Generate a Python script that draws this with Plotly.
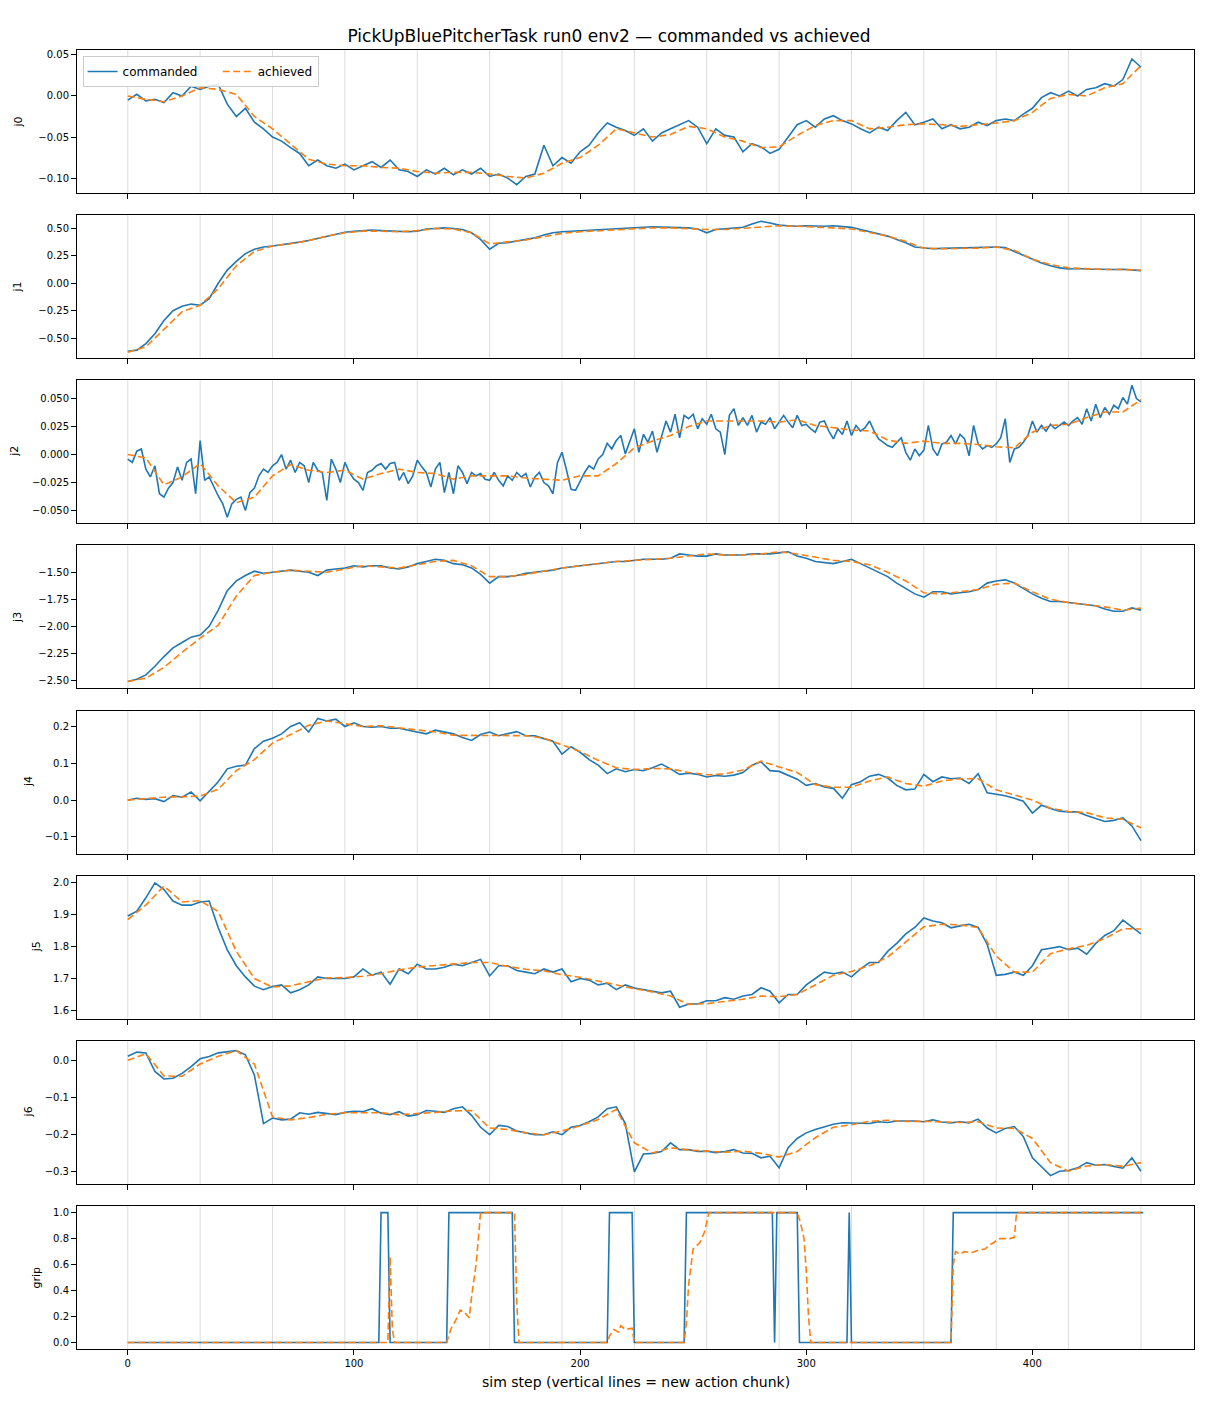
"""
PickUpBluePitcherTask run0 env2: commanded vs achieved joint trajectories.

Eight stacked panels sharing one step axis; light vertical lines mark
the start of each new action chunk.
"""

import plotly.graph_objects as go
from plotly.subplots import make_subplots

# sample grids (sim steps) for the values
STEPS_CMD = list(range(0, 449, 4))
STEPS_J2 = list(range(0, 449, 2))   # j2 is the noisiest joint, read more densely
STEPS_ACH = list(range(0, 449, 8))
CHUNK_STARTS = [0, 32, 64, 96, 128, 160, 192, 224, 256, 288, 320, 352, 384, 416, 448]

J0_CMD = [
    -0.005, 0.002, -0.006, -0.004, -0.008, 0.004, 0.0, 0.012, 0.008, 0.012,
    0.014, -0.01, -0.025, -0.015, -0.032, -0.04, -0.05, -0.055, -0.063, -0.07,
    -0.085, -0.078, -0.085, -0.088, -0.083, -0.09, -0.085, -0.08, -0.087, -0.078,
    -0.09, -0.092, -0.098, -0.09, -0.095, -0.088, -0.096, -0.09, -0.095, -0.088,
    -0.098, -0.095, -0.1, -0.108, -0.098, -0.095, -0.06, -0.085, -0.075, -0.082,
    -0.068, -0.06, -0.045, -0.033, -0.038, -0.042, -0.048, -0.04, -0.055, -0.045,
    -0.04, -0.035, -0.03, -0.038, -0.058, -0.04, -0.048, -0.05, -0.068, -0.058,
    -0.062, -0.07, -0.065, -0.05, -0.035, -0.03, -0.038, -0.028, -0.024, -0.03,
    -0.034, -0.04, -0.045, -0.038, -0.042, -0.03, -0.02, -0.035, -0.032, -0.028,
    -0.04, -0.035, -0.04, -0.038, -0.032, -0.036, -0.03, -0.028, -0.03, -0.022,
    -0.015, -0.002, 0.004, 0.0, 0.006, 0.0, 0.008, 0.01, 0.015, 0.012,
    0.02, 0.045, 0.035,
]
J0_ACH = [
    0.0, -0.004, -0.007, 0.0, 0.01, 0.008, 0.002, -0.025, -0.04, -0.058,
    -0.077, -0.083, -0.085, -0.085, -0.087, -0.088, -0.092, -0.094, -0.093, -0.093,
    -0.095, -0.098, -0.1, -0.094, -0.082, -0.075, -0.06, -0.04, -0.045, -0.05,
    -0.047, -0.037, -0.04, -0.05, -0.055, -0.063, -0.062, -0.048, -0.036, -0.03,
    -0.03, -0.04, -0.038, -0.035, -0.034, -0.035, -0.037, -0.035, -0.033, -0.03,
    -0.02, -0.003, 0.002, 0.0, 0.01, 0.015, 0.037,
]

J1_CMD = [
    -0.62, -0.61, -0.55, -0.46, -0.34, -0.25, -0.21, -0.19, -0.2, -0.14,
    0.0, 0.12, 0.2, 0.27, 0.31, 0.33, 0.34, 0.35, 0.365, 0.375,
    0.39, 0.41, 0.43, 0.45, 0.465, 0.475, 0.48, 0.485, 0.48, 0.478,
    0.475, 0.47, 0.475, 0.495, 0.5, 0.505, 0.5, 0.49, 0.46, 0.4,
    0.31, 0.365, 0.37, 0.385, 0.4, 0.415, 0.44, 0.46, 0.47, 0.475,
    0.48, 0.485, 0.49, 0.49, 0.495, 0.5, 0.505, 0.51, 0.515, 0.512,
    0.51, 0.508, 0.505, 0.495, 0.46, 0.49, 0.495, 0.5, 0.51, 0.54,
    0.565, 0.55, 0.53, 0.525, 0.52, 0.525, 0.52, 0.52, 0.525, 0.515,
    0.51, 0.49, 0.47, 0.45, 0.43, 0.4, 0.37, 0.33, 0.32, 0.315,
    0.318, 0.32, 0.318, 0.32, 0.322, 0.325, 0.33, 0.325, 0.29, 0.26,
    0.22, 0.185, 0.16, 0.14, 0.13, 0.135, 0.13, 0.128, 0.125, 0.125,
    0.128, 0.122, 0.115,
]
J1_ACH = [
    -0.63, -0.58, -0.42, -0.26, -0.2, -0.05, 0.16, 0.29, 0.34, 0.36,
    0.39, 0.43, 0.46, 0.475, 0.475, 0.47, 0.48, 0.5, 0.495, 0.46,
    0.36, 0.375, 0.395, 0.425, 0.455, 0.47, 0.48, 0.49, 0.5, 0.505,
    0.505, 0.497, 0.49, 0.49, 0.5, 0.515, 0.524, 0.52, 0.515, 0.505,
    0.495, 0.465, 0.43, 0.38, 0.32, 0.315, 0.316, 0.32, 0.33, 0.3,
    0.22, 0.17, 0.14, 0.13, 0.125, 0.125, 0.119,
]

J2_CMD = [
    -0.004, -0.007, 0.003, 0.005, -0.013, -0.02, -0.01, -0.035, -0.038, -0.03,
    -0.025, -0.011, -0.023, -0.007, -0.004, -0.035, 0.0125, -0.023, -0.02, -0.029,
    -0.037, -0.044, -0.056, -0.044, -0.04, -0.038, -0.05, -0.034, -0.03, -0.019,
    -0.013, -0.016, -0.01, -0.007, 0.0, -0.013, -0.005, -0.016, -0.007, -0.01,
    -0.025, -0.007, -0.014, -0.016, -0.041, -0.004, -0.013, -0.025, -0.007, -0.016,
    -0.022, -0.025, -0.032, -0.016, -0.014, -0.01, -0.008, -0.013, -0.008, -0.007,
    -0.023, -0.016, -0.026, -0.019, -0.005, -0.011, -0.016, -0.029, -0.013, -0.007,
    -0.034, -0.016, -0.035, -0.01, -0.016, -0.026, -0.016, -0.019, -0.017, -0.022,
    -0.023, -0.016, -0.023, -0.028, -0.019, -0.023, -0.016, -0.02, -0.017, -0.029,
    -0.02, -0.016, -0.025, -0.028, -0.035, -0.007, 0.002, -0.014, -0.031, -0.032,
    -0.024, -0.016, -0.01, -0.013, -0.004, 0.0, 0.01, 0.005, 0.0125, 0.017,
    0.0006, 0.011, 0.023, 0.002, 0.018, 0.011, 0.021, 0.002, 0.015, 0.03,
    0.02, 0.036, 0.015, 0.035, 0.032, 0.036, 0.023, 0.032, 0.027, 0.036,
    0.023, 0.02, 0.0, 0.035, 0.041, 0.026, 0.033, 0.026, 0.035, 0.02,
    0.029, 0.027, 0.033, 0.023, 0.029, 0.035, 0.029, 0.024, 0.035, 0.026,
    0.027, 0.023, 0.02, 0.029, 0.03, 0.021, 0.014, 0.023, 0.018, 0.03,
    0.017, 0.026, 0.021, 0.024, 0.03, 0.021, 0.014, 0.011, 0.008, 0.0065,
    0.011, 0.015, 0.002, -0.005, 0.005, -0.001, 0.004, 0.026, 0.005, -0.001,
    0.0095, 0.011, 0.017, 0.0095, 0.018, 0.014, -0.001, 0.026, 0.0095, 0.005,
    0.008, 0.0065, 0.0095, 0.015, 0.032, -0.007, 0.005, 0.0065, 0.011, 0.017,
    0.03, 0.02, 0.026, 0.021, 0.027, 0.023, 0.026, 0.029, 0.026, 0.03,
    0.033, 0.027, 0.041, 0.03, 0.045, 0.033, 0.042, 0.036, 0.044, 0.041,
    0.051, 0.045, 0.062, 0.05, 0.047,
]
J2_ACH = [
    0.0, -0.003, -0.027, -0.02, -0.008, -0.028, -0.043, -0.038, -0.019, -0.009,
    -0.014, -0.016, -0.014, -0.022, -0.017, -0.013, -0.016, -0.017, -0.022, -0.019,
    -0.019, -0.019, -0.021, -0.022, -0.023, -0.019, -0.019, -0.008, 0.006, 0.012,
    0.017, 0.025, 0.03, 0.03, 0.03, 0.03, 0.029, 0.031, 0.026, 0.024,
    0.022, 0.021, 0.013, 0.01, 0.012, 0.01, 0.01, 0.009, 0.007, 0.006,
    0.02, 0.026, 0.027, 0.033, 0.038, 0.038, 0.049,
]

J3_CMD = [
    -2.51, -2.49, -2.45, -2.37, -2.28, -2.2, -2.15, -2.1, -2.08, -2.0,
    -1.85, -1.67, -1.58, -1.53, -1.49, -1.51, -1.5, -1.49, -1.48, -1.49,
    -1.5, -1.53, -1.48, -1.47, -1.46, -1.44, -1.45, -1.44, -1.44, -1.46,
    -1.47, -1.45, -1.42, -1.4, -1.38, -1.39, -1.42, -1.43, -1.46, -1.52,
    -1.6, -1.54, -1.54, -1.53, -1.51, -1.5, -1.49, -1.48, -1.46, -1.45,
    -1.44, -1.43, -1.42, -1.41, -1.4, -1.4, -1.39, -1.38, -1.38, -1.38,
    -1.37, -1.33, -1.34, -1.35, -1.35, -1.33, -1.34, -1.34, -1.34, -1.33,
    -1.33, -1.33, -1.32, -1.31, -1.35, -1.37, -1.4, -1.41, -1.42, -1.4,
    -1.38, -1.42, -1.46, -1.5, -1.54, -1.6, -1.65, -1.7, -1.73, -1.68,
    -1.68, -1.7, -1.69, -1.68, -1.66, -1.6, -1.58, -1.57, -1.6, -1.65,
    -1.7, -1.74, -1.77, -1.77, -1.78, -1.79, -1.8, -1.81, -1.84, -1.86,
    -1.86, -1.83, -1.85,
]
J3_ACH = [
    -2.51, -2.48, -2.38, -2.24, -2.11, -1.99, -1.72, -1.53, -1.5, -1.48,
    -1.49, -1.5, -1.47, -1.44, -1.45, -1.46, -1.43, -1.4, -1.39, -1.44,
    -1.54, -1.54, -1.52, -1.49, -1.46, -1.44, -1.42, -1.4, -1.39, -1.38,
    -1.37, -1.35, -1.33, -1.34, -1.34, -1.33, -1.31, -1.33, -1.36, -1.39,
    -1.4, -1.43, -1.5, -1.58, -1.69, -1.7, -1.68, -1.66, -1.61, -1.6,
    -1.68, -1.75, -1.78, -1.8, -1.82, -1.85, -1.83,
]

J4_CMD = [
    0.0, 0.005, 0.002, 0.004, -0.004, 0.012, 0.008, 0.022, -0.002, 0.025,
    0.05, 0.085, 0.092, 0.095, 0.14, 0.16, 0.168, 0.18, 0.2, 0.21,
    0.185, 0.222, 0.215, 0.22, 0.2, 0.21, 0.2, 0.198, 0.2, 0.195,
    0.195, 0.19, 0.185, 0.18, 0.19, 0.185, 0.18, 0.17, 0.162, 0.178,
    0.185, 0.175, 0.18, 0.186, 0.175, 0.175, 0.167, 0.16, 0.125, 0.145,
    0.13, 0.11, 0.095, 0.072, 0.085, 0.077, 0.083, 0.08, 0.088, 0.098,
    0.085, 0.07, 0.073, 0.07, 0.063, 0.067, 0.065, 0.068, 0.075, 0.095,
    0.104, 0.08, 0.078, 0.068, 0.057, 0.04, 0.045, 0.036, 0.032, 0.005,
    0.042, 0.05, 0.065, 0.07, 0.06, 0.04, 0.028, 0.03, 0.07, 0.05,
    0.063, 0.058, 0.06, 0.045, 0.072, 0.02, 0.017, 0.012, 0.005, -0.003,
    -0.035, -0.014, -0.023, -0.03, -0.032, -0.032, -0.042, -0.05, -0.058, -0.055,
    -0.048, -0.07, -0.11,
]
J4_ACH = [
    0.0, 0.004, 0.008, 0.009, 0.011, 0.03, 0.08, 0.11, 0.155, 0.178,
    0.203, 0.215, 0.207, 0.2, 0.202, 0.197, 0.19, 0.185, 0.176, 0.176,
    0.176, 0.176, 0.175, 0.168, 0.15, 0.132, 0.108, 0.088, 0.083, 0.086,
    0.085, 0.075, 0.069, 0.071, 0.082, 0.106, 0.09, 0.075, 0.042, 0.035,
    0.035, 0.052, 0.063, 0.045, 0.038, 0.052, 0.058, 0.058, 0.028, 0.014,
    0.0, -0.022, -0.031, -0.034, -0.048, -0.052, -0.075,
]

J5_CMD = [
    1.896, 1.911, 1.953, 2.0, 1.979, 1.943, 1.93, 1.93, 1.94, 1.943,
    1.859, 1.79, 1.74, 1.705, 1.676, 1.665, 1.675, 1.68, 1.655, 1.665,
    1.68, 1.705, 1.7, 1.7, 1.7, 1.705, 1.73, 1.71, 1.72, 1.682,
    1.73, 1.715, 1.745, 1.73, 1.73, 1.735, 1.745, 1.74, 1.75, 1.76,
    1.708, 1.74, 1.74, 1.725, 1.72, 1.715, 1.73, 1.72, 1.73, 1.69,
    1.7, 1.695, 1.68, 1.685, 1.665, 1.68, 1.67, 1.665, 1.66, 1.655,
    1.66, 1.61, 1.62, 1.62, 1.63, 1.63, 1.64, 1.635, 1.645, 1.65,
    1.671, 1.66, 1.624, 1.65, 1.65, 1.68, 1.7, 1.72, 1.715, 1.72,
    1.705, 1.73, 1.75, 1.75, 1.785, 1.81, 1.84, 1.86, 1.89, 1.88,
    1.875, 1.859, 1.865, 1.87, 1.86, 1.807, 1.71, 1.713, 1.72, 1.71,
    1.74, 1.79, 1.795, 1.8, 1.79, 1.795, 1.776, 1.81, 1.835, 1.85,
    1.883, 1.86, 1.84,
]
J5_ACH = [
    1.885, 1.93, 1.99, 1.94, 1.944, 1.91, 1.785, 1.7, 1.673, 1.677,
    1.69, 1.702, 1.703, 1.707, 1.715, 1.727, 1.736, 1.74, 1.744, 1.75,
    1.75, 1.738, 1.729, 1.724, 1.712, 1.704, 1.692, 1.679, 1.668, 1.658,
    1.645, 1.619, 1.621, 1.628, 1.635, 1.645, 1.643, 1.65, 1.68, 1.71,
    1.722, 1.74, 1.767, 1.815, 1.862, 1.87, 1.868, 1.86, 1.77, 1.72,
    1.72, 1.778, 1.793, 1.804, 1.825, 1.856, 1.855,
]

J6_CMD = [
    0.011, 0.022, 0.02, -0.03, -0.05, -0.048, -0.035, -0.017, 0.004, 0.01,
    0.02, 0.022, 0.026, 0.015, -0.04, -0.17, -0.155, -0.16, -0.158, -0.141,
    -0.145, -0.14, -0.142, -0.146, -0.14, -0.137, -0.138, -0.13, -0.142, -0.146,
    -0.138, -0.15, -0.146, -0.135, -0.137, -0.14, -0.13, -0.125, -0.148, -0.18,
    -0.2, -0.175, -0.178, -0.19, -0.195, -0.2, -0.2, -0.192, -0.2, -0.18,
    -0.175, -0.165, -0.152, -0.13, -0.125, -0.17, -0.3, -0.252, -0.25, -0.245,
    -0.222, -0.24, -0.24, -0.245, -0.244, -0.248, -0.245, -0.24, -0.249, -0.25,
    -0.262, -0.258, -0.289, -0.235, -0.21, -0.195, -0.186, -0.178, -0.172, -0.168,
    -0.168, -0.168, -0.17, -0.165, -0.167, -0.163, -0.162, -0.163, -0.165, -0.16,
    -0.166, -0.168, -0.165, -0.168, -0.158, -0.182, -0.195, -0.183, -0.178, -0.205,
    -0.262, -0.287, -0.31, -0.298, -0.296, -0.289, -0.275, -0.282, -0.28, -0.285,
    -0.29, -0.262, -0.298,
]
J6_ACH = [
    0.0, 0.018, -0.042, -0.043, -0.01, 0.011, 0.026, -0.01, -0.152, -0.16,
    -0.154, -0.145, -0.141, -0.141, -0.141, -0.146, -0.144, -0.14, -0.136, -0.135,
    -0.182, -0.186, -0.195, -0.2, -0.19, -0.176, -0.159, -0.132, -0.222, -0.249,
    -0.235, -0.241, -0.244, -0.247, -0.244, -0.25, -0.26, -0.245, -0.208, -0.18,
    -0.173, -0.164, -0.161, -0.164, -0.164, -0.166, -0.167, -0.165, -0.182, -0.183,
    -0.21, -0.275, -0.298, -0.284, -0.28, -0.285, -0.275,
]

# gripper is a step signal, so it is listed at its change points
GRIP_CMD_STEPS = [0, 111, 112, 115, 116, 141, 142, 170, 171, 212, 213, 223, 224,
                  246, 247, 285, 286, 287, 296, 297, 318, 319, 320, 364, 365, 449]
GRIP_CMD = [0, 0, 1, 1, 0, 0, 1, 1, 0, 0, 1, 1, 0,
            0, 1, 1, 0, 1, 1, 0, 0, 1, 0, 0, 1, 1]
GRIP_ACH_STEPS = [0, 115, 116, 117, 118, 141, 143, 145, 147, 149, 151, 152, 154, 156,
                  171, 172, 173, 212, 213, 215, 217, 218, 220, 223, 224,
                  246, 247, 248, 250, 253, 255, 257, 296, 297, 298, 299, 300, 301, 302,
                  364, 365, 366, 368, 370, 373, 376, 379, 381, 383, 385, 390, 392, 393, 449]
GRIP_ACH = [0, 0, 0.66, 0.1, 0, 0, 0.11, 0.17, 0.25, 0.23, 0.19, 0.35, 0.6, 1.0,
            1.0, 0.3, 0, 0, 0.05, 0.1, 0.08, 0.13, 0.1, 0.11, 0,
            0, 0.15, 0.45, 0.72, 0.77, 0.85, 1.0, 1.0, 0.95, 0.88, 0.8, 0.55, 0.2, 0,
            0, 0.6, 0.7, 0.68, 0.7, 0.69, 0.71, 0.72, 0.75, 0.77, 0.8, 0.8, 0.81, 1.0, 1.0]

BLUE = "#1f77b4"
ORANGE = "#ff7f0e"
FONT = "DejaVu Sans"

# label, commanded (x, y), achieved (x, y), y range, tick step, tick format, label x (page px)
PANELS = [
    ("j0", STEPS_CMD, J0_CMD, STEPS_ACH, J0_ACH, [-0.118, 0.056], 0.05, ".2f", 18),
    ("j1", STEPS_CMD, J1_CMD, STEPS_ACH, J1_ACH, [-0.682, 0.621], 0.25, ".2f", 18),
    ("j2", STEPS_J2, J2_CMD, STEPS_ACH, J2_ACH, [-0.0613, 0.0663], 0.025, ".3f", 15),
    ("j3", STEPS_CMD, J3_CMD, STEPS_ACH, J3_ACH, [-2.574, -1.252], 0.25, ".2f", 18),
    ("j4", STEPS_CMD, J4_CMD, STEPS_ACH, J4_ACH, [-0.145, 0.243], 0.1, ".1f", 28),
    ("j5", STEPS_CMD, J5_CMD, STEPS_ACH, J5_ACH, [1.574, 2.022], 0.1, ".1f", 36),
    ("j6", STEPS_CMD, J6_CMD, STEPS_ACH, J6_ACH, [-0.332, 0.052], 0.1, ".1f", 28),
    ("grip", GRIP_CMD_STEPS, GRIP_CMD, GRIP_ACH_STEPS, GRIP_ACH, [-0.05, 1.05], 0.2, ".1f", 37),
]

# the page body adds an 8px offset, so the figure is sized to fit inside it
OFF = 8
W, H = 1210 - OFF, 1408 - OFF
PLOT_LEFT, PLOT_TOP, PLOT_RIGHT, PLOT_BOTTOM = 77, 50, 1194, 1349  # page px
M_L, M_T = PLOT_LEFT - OFF, PLOT_TOP - OFF
M_R, M_B = W - (PLOT_RIGHT - OFF), H - (PLOT_BOTTOM - OFF)
PLOT_W = PLOT_RIGHT - PLOT_LEFT
PLOT_H = PLOT_BOTTOM - PLOT_TOP

fig = make_subplots(rows=len(PANELS), cols=1, shared_xaxes=True,
                    vertical_spacing=22.3 / PLOT_H)

for i, (label, xc, yc, xa, ya, yrange, dtick, fmt, lab_x) in enumerate(PANELS, start=1):
    assert len(xc) == len(yc) and len(xa) == len(ya), label
    fig.add_trace(go.Scatter(x=xc, y=yc, mode="lines",
                             name="commanded\u00a0\u00a0\u00a0\u00a0",
                             line=dict(color=BLUE, width=1.6),
                             legendgroup="cmd", showlegend=(i == 1)),
                  row=i, col=1)
    fig.add_trace(go.Scatter(x=xa, y=ya, mode="lines", name="achieved",
                             line=dict(color=ORANGE, width=1.6, dash="7px,3.5px"),
                             legendgroup="ach", showlegend=(i == 1)),
                  row=i, col=1)

    axis_suffix = "" if i == 1 else str(i)
    for c in CHUNK_STARTS:
        fig.add_shape(type="line", xref="x" + axis_suffix, yref=f"y{axis_suffix} domain",
                      x0=c, x1=c, y0=0, y1=1, layer="below",
                      line=dict(color="#dcdcdc", width=1))

    fig.update_yaxes(range=yrange, autorange=False, dtick=dtick, tick0=0,
                     tickformat=fmt, row=i, col=1)

    fig.add_annotation(text=label, xref="paper", yref=f"y{axis_suffix} domain",
                       x=(lab_x - PLOT_LEFT) / PLOT_W, y=0.5,
                       xanchor="center", yanchor="middle",
                       textangle=-90, showarrow=False,
                       font=dict(family=FONT, size=11, color="black"))

fig.update_xaxes(range=[-22.45, 471.45], autorange=False,
                 tickvals=[0, 100, 200, 300, 400],
                 showgrid=False, zeroline=False,
                 showline=True, mirror=True, linecolor="black", linewidth=1,
                 ticks="outside", ticklen=5, tickwidth=1, tickcolor="black",
                 tickfont=dict(family=FONT, size=10, color="black"))
fig.update_yaxes(showgrid=False, zeroline=False,
                 showline=True, mirror=True, linecolor="black", linewidth=1,
                 ticks="outside", ticklen=5, tickwidth=1, tickcolor="black",
                 tickfont=dict(family=FONT, size=10, color="black"))

fig.add_annotation(text="sim step (vertical lines = new action chunk)",
                   xref="paper", yref="paper", x=0.5, y=-(1382 - PLOT_BOTTOM) / PLOT_H,
                   xanchor="center", yanchor="middle", showarrow=False,
                   font=dict(family=FONT, size=14, color="black"))

fig.update_layout(
    width=W, height=H,
    margin=dict(l=M_L, r=M_R, t=M_T, b=M_B),
    paper_bgcolor="white", plot_bgcolor="white",
    font=dict(family=FONT, size=10, color="black"),
    title=dict(text="PickUpBluePitcherTask run0 env2 \u2014 commanded vs achieved",
               x=0.5, xref="container", xanchor="center",
               y=1 - (36 - OFF) / H, yref="container", yanchor="middle",
               font=dict(family=FONT, size=17, color="black")),
    legend=dict(orientation="h", x=0.005, y=1 - 6 / PLOT_H,
                xanchor="left", yanchor="top",
                bgcolor="rgba(255,255,255,0.85)", bordercolor="#cccccc", borderwidth=1,
                font=dict(family=FONT, size=12, color="black")),
    showlegend=True,
)

fig.write_html("out.html")
